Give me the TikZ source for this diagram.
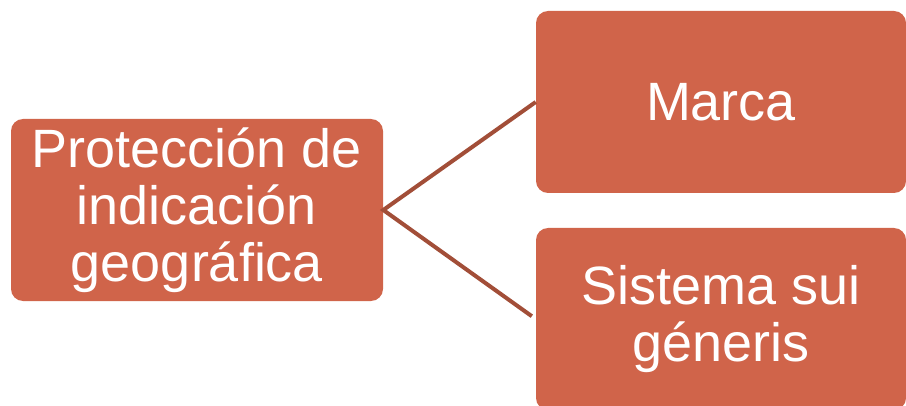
\documentclass[tikz,border=0pt]{standalone}
\usepackage{fontspec}
\setmainfont{Liberation Sans}
\definecolor{boxfill}{HTML}{D0644A}
\definecolor{linkcol}{HTML}{A24E38}
\begin{document}
\begin{tikzpicture}[
    box/.style={fill=boxfill, rounded corners=0.3cm, text=white, align=center,
        minimum height=4.55cm, inner sep=0pt,
        font=\fontsize{38.4}{40.5}\selectfont},
    link/.style={draw=linkcol, line width=0.1cm, shorten >=0.12cm}
]
    \useasboundingbox (0, 0) rectangle (22.65, 10.125);

    \node[box, minimum width=9.3cm] (prot) at (4.925, 4.875) {Protección de\\indicación\\geográfica};
    \node[box, minimum width=9.25cm] (marca) at (18.025, 7.575) {Marca};
    \node[box, minimum width=9.25cm] (sistema) at (18.025, 2.15) {Sistema sui\\géneris};

    \draw[link] (marca.west) -- (prot.east) -- (sistema.west);
\end{tikzpicture}
\end{document}
